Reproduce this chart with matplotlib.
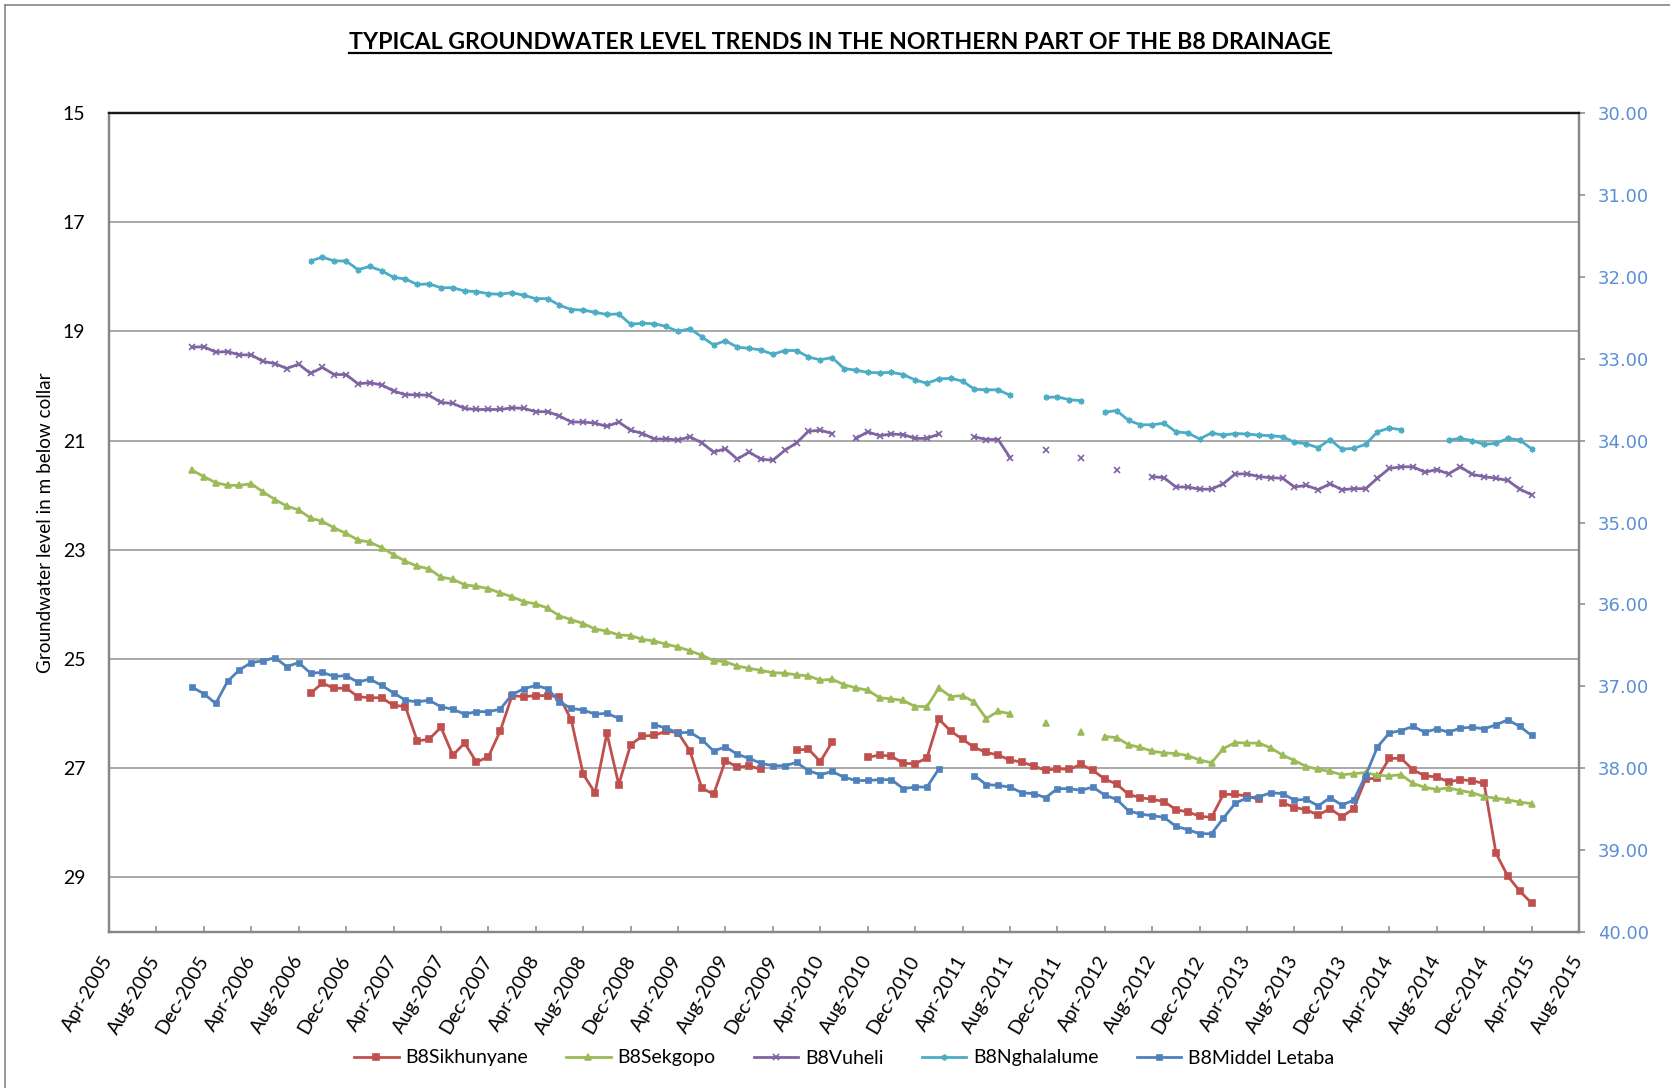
import numpy as np
import matplotlib
matplotlib.use("Agg")
import matplotlib.pyplot as plt
from matplotlib.lines import Line2D

# ---------------- data ----------------
tick_labels = ['Apr-2005', 'Aug-2005', 'Dec-2005', 'Apr-2006', 'Aug-2006', 'Dec-2006',
               'Apr-2007', 'Aug-2007', 'Dec-2007', 'Apr-2008', 'Aug-2008', 'Dec-2008',
               'Apr-2009', 'Aug-2009', 'Dec-2009', 'Apr-2010', 'Aug-2010', 'Dec-2010',
               'Apr-2011', 'Aug-2011', 'Dec-2011', 'Apr-2012', 'Aug-2012', 'Dec-2012',
               'Apr-2013', 'Aug-2013', 'Dec-2013', 'Apr-2014', 'Aug-2014', 'Dec-2014',
               'Apr-2015', 'Aug-2015']

series_names = ['B8Sikhunyane', 'B8Sekgopo', 'B8Vuheli', 'B8Nghalalume', 'B8Middel Letaba']
series_start = ['Sep-2006', 'Nov-2005', 'Nov-2005', 'Sep-2006', 'Nov-2005']

# monthly water levels (m below collar); None = no measurement
sikhunyane = [25.63, 25.44, 25.54, 25.53, 25.69, 25.71, 25.71, 25.85, 25.87, 26.50, 26.47, 26.25, 26.76, 26.54, 26.89,
              26.79, 26.32, 25.67, 25.69, 25.67, 25.67, 25.69, 26.12, 27.11, 27.45, 26.36, 27.30, 26.57, 26.41, 26.40,
              26.32, 26.35, 26.68, 27.36, 27.48, 26.86, 26.98, 26.96, 27.02,
              None, None,
              26.67, 26.65, 26.88, 26.52,
              None, None,
              26.80, 26.76, 26.78, 26.91, 26.92, 26.81, 26.10, 26.32, 26.47, 26.62, 26.71, 26.76, 26.85, 26.89, 26.96,
              27.04, 27.01, 27.02, 26.93, 27.04, 27.20, 27.29, 27.48, 27.54, 27.57, 27.61, 27.76, 27.80, 27.88, 27.90,
              27.48, 27.48, 27.51, 27.57,
              None,
              27.63, 27.72, 27.76, 27.86, 27.74, 27.89, 27.74, 27.20, 27.18, 26.82, 26.82, 27.03, 27.14, 27.16, 27.25,
              27.21, 27.23, 27.28, 28.56, 28.98, 29.25, 29.47]

sekgopo = [21.54, 21.66, 21.77, 21.82, 21.82, 21.79, 21.94, 22.08, 22.20, 22.27, 22.42, 22.48, 22.60, 22.70, 22.82,
           22.86, 22.96, 23.09, 23.21, 23.30, 23.35,
           23.50, 23.54, 23.64, 23.67,
           23.71, 23.79, 23.86, 23.95, 23.99, 24.07, 24.21, 24.28, 24.35, 24.45, 24.49, 24.56, 24.57, 24.64, 24.67,
           24.73, 24.78, 24.85, 24.93, 25.03, 25.05, 25.13, 25.17, 25.21, 25.25, 25.26, 25.29, 25.31, 25.39, 25.37,
           25.47,
           25.53, 25.57, 25.71, 25.73, 25.76, 25.87, 25.87, 25.53, 25.69, 25.67, 25.79, 26.09, 25.96, 26.00,
           None, None, 26.17, None, None, 26.34, None,
           26.42, 26.44, 26.57, 26.62, 26.69, 26.72, 26.73, 26.77, 26.85, 26.90,
           26.64, 26.53, 26.54, 26.54, 26.63, 26.76, 26.86, 26.97, 27.02, 27.06, 27.12, 27.10, 27.08, 27.13, 27.14,
           27.12, 27.28, 27.35, 27.39, 27.36, 27.41, 27.45, 27.52, 27.55, 27.58, 27.62, 27.65]

vuheli = [19.29, 19.28, 19.38, 19.37, 19.43, 19.43, 19.55, 19.59, 19.68, 19.60, 19.77, 19.66, 19.79, 19.79, 19.96,
          19.94, 19.98, 20.09, 20.16, 20.16, 20.17, 20.30, 20.32, 20.41, 20.43,
          20.43, 20.43, 20.40, 20.41, 20.47, 20.47, 20.55, 20.66, 20.66, 20.68, 20.74, 20.66, 20.81, 20.87, 20.97,
          20.97, 20.99, 20.93, 21.04, 21.21, 21.15, 21.34, 21.21, 21.34, 21.36, 21.18, 21.04, 20.83, 20.81, 20.87,
          None,
          20.96, 20.84, 20.91, 20.88, 20.89, 20.96, 20.96, 20.88,
          None, None,
          20.93, 20.98, 20.98, 21.31,
          None, None, 21.18, None, None, 21.32, None, None, 21.54, None, None,
          21.66, 21.68, 21.85, 21.85, 21.89, 21.89,
          21.79, 21.61, 21.61, 21.66, 21.68, 21.69, 21.85, 21.82, 21.90, 21.79, 21.90, 21.88, 21.88, 21.69, 21.51,
          21.48, 21.48, 21.58, 21.53, 21.61, 21.48, 21.62, 21.66, 21.69, 21.73, 21.89, 21.99]

nghalalume = [17.71, 17.64, 17.71, 17.71, 17.87, 17.81, 17.89, 18.01, 18.04, 18.14, 18.13, 18.20, 18.20, 18.26, 18.27,
              18.31, 18.32, 18.29, 18.34, 18.40, 18.40, 18.52, 18.60, 18.61, 18.65, 18.69, 18.68, 18.87, 18.85, 18.86,
              18.91, 19.00, 18.95, 19.10, 19.25, 19.17, 19.29, 19.31, 19.34, 19.42, 19.35, 19.35, 19.47, 19.52, 19.48,
              19.68,
              19.71, 19.75, 19.76, 19.75, 19.79, 19.89, 19.95, 19.87, 19.86, 19.91, 20.06, 20.07, 20.07, 20.17,
              None, None,
              20.21, 20.20, 20.25, 20.27,
              None,
              20.48, 20.45, 20.63, 20.71, 20.71, 20.68, 20.84, 20.86, 20.97, 20.86,
              20.90, 20.87, 20.88, 20.90, 20.91, 20.93, 21.03, 21.06, 21.13, 20.98, 21.16, 21.14, 21.07, 20.84, 20.77,
              20.80,
              None, None, None,
              20.99, 20.96, 21.00, 21.07, 21.05, 20.96, 20.99, 21.15]

# plotted against the secondary (right) axis
middel_letaba = [37.01, 37.09, 37.21, 36.94, 36.80, 36.71, 36.69, 36.65, 36.76, 36.71, 36.84, 36.83, 36.88, 36.87,
                 36.95, 36.91, 36.99, 37.08, 37.17, 37.19, 37.17, 37.25, 37.28, 37.34, 37.31,
                 37.31, 37.28, 37.10, 37.03, 36.99, 37.03, 37.19, 37.27, 37.29, 37.34, 37.33, 37.39,
                 None, None,
                 37.47, 37.51, 37.57, 37.56, 37.65, 37.79, 37.74, 37.83, 37.88, 37.94, 37.97, 37.97, 37.93, 38.03,
                 38.08, 38.04, 38.11,
                 38.15, 38.15, 38.14, 38.14, 38.25, 38.23, 38.23, 38.01,
                 None, None,
                 38.09, 38.20, 38.21, 38.23, 38.30, 38.31, 38.36, 38.25, 38.25, 38.27, 38.23, 38.33, 38.38, 38.52,
                 38.56, 38.58, 38.60, 38.71, 38.75, 38.80, 38.80,
                 38.61, 38.43, 38.36, 38.35, 38.30, 38.31, 38.39, 38.38, 38.46, 38.36, 38.45, 38.39, 38.09, 37.74,
                 37.57, 37.54, 37.49, 37.56, 37.52, 37.56, 37.51, 37.50, 37.52, 37.47, 37.41, 37.49, 37.60]

left_ticks = [15, 17, 19, 21, 23, 25, 27, 29]
right_ticks = [30, 31, 32, 33, 34, 35, 36, 37, 38, 39, 40]

# ---------------- style ----------------
plt.rcParams['font.family'] = ['Lato', 'DejaVu Sans']

colors = ['#C0504D', '#9BBB59', '#8064A2', '#4BACC6', '#4F81BD']
markers = ['s', '^', 'x', (6, 2, 0), 's']
msizes = [3.8, 4.2, 3.8, 4.2, 3.6]

MONTHS = ['Jan', 'Feb', 'Mar', 'Apr', 'May', 'Jun', 'Jul', 'Aug', 'Sep', 'Oct', 'Nov', 'Dec']


def month_index(label):
    # months elapsed since Apr-2005 (the axis origin)
    return (int(label[-4:]) - 2005) * 12 + MONTHS.index(label[:3]) - 3


W, H = 1670, 1088
fig = plt.figure(figsize=(W / 100, H / 100), dpi=100)
fig.patch.set_facecolor('white')

L, R, T, B = 109, 1579, 113, 932
ax = fig.add_axes([L / W, 1 - B / H, (R - L) / W, (B - T) / H])
ax2 = ax.twinx()

data = [sikhunyane, sekgopo, vuheli, nghalalume, middel_letaba]
handles = []
for i, vals in enumerate(data):
    y = np.array([np.nan if v is None else v for v in vals], dtype=float)
    x = month_index(series_start[i]) + np.arange(len(y))
    target = ax2 if i == 4 else ax
    ln, = target.plot(x, y, color=colors[i], lw=2.0, marker=markers[i], ms=msizes[i],
                      mec=colors[i], mfc=colors[i], mew=1.2, label=series_names[i],
                      solid_joinstyle='round', zorder=3)
    handles.append(ln)

# x axis
n_months = (len(tick_labels) - 1) * 4
ax.set_xlim(0, n_months)
ax.set_xticks(np.arange(0, n_months + 1, 4))
ax.set_xticklabels(tick_labels, rotation=60, ha='right', va='center', rotation_mode='anchor',
                   fontsize=14)
ax.tick_params(axis='x', direction='in', length=4.5, width=1.1, color='#868686', pad=18)

# left axis
ax.set_ylim(30, 15)
ax.set_yticks(left_ticks)
ax.set_yticklabels([str(t) for t in left_ticks], fontsize=14)
ax.tick_params(axis='y', length=0, pad=17)
ax.yaxis.grid(True, color='#9a9a9a', lw=1.2)
ax.set_axisbelow(True)

# right axis
ax2.set_ylim(40, 30)
ax2.set_yticks(right_ticks)
ax2.set_yticklabels(['%.2f' % t for t in right_ticks], fontsize=13, color='#5A8FD6',
                    family=['DejaVu Sans'])
ax2.tick_params(axis='y', direction='out', length=4.5, width=1.1, color='#868686', pad=9)

for a in (ax, ax2):
    for s in ('left', 'right', 'bottom'):
        a.spines[s].set_color('#868686')
        a.spines[s].set_linewidth(1.6)
    a.spines['top'].set_color('#1a1a1a')
    a.spines['top'].set_linewidth(1.6)

# title with underline
title = fig.text(840 / W, 1 - 49 / H,
                 'TYPICAL GROUNDWATER LEVEL TRENDS IN THE NORTHERN PART OF THE B8 DRAINAGE',
                 ha='center', va='baseline', fontsize=16.7, fontweight='bold')
fig.canvas.draw()
bb = title.get_window_extent(renderer=fig.canvas.get_renderer())
uy = 1 - 52.5 / H
fig.add_artist(Line2D([bb.x0 / W, bb.x1 / W], [uy, uy], transform=fig.transFigure,
                      color='black', lw=1.6))

# y label
fig.text(46 / W, 1 - ((T + B) / 2) / H, 'Groundwater level in m below collar', rotation=90,
         ha='center', va='center', fontsize=13.6)

# legend
fig.legend(handles=handles, labels=series_names, loc='center', ncol=5,
           bbox_to_anchor=(844 / W, 1 - 1058 / H), frameon=False, fontsize=14,
           handlelength=2.3, handletextpad=0.35, columnspacing=1.95)

# chart area border (top & left visible)
fig.add_artist(Line2D([5 / W, 1], [1 - 5 / H, 1 - 5 / H], transform=fig.transFigure,
                      color='#868686', lw=1.2))
fig.add_artist(Line2D([5 / W, 5 / W], [0, 1 - 5 / H], transform=fig.transFigure,
                      color='#868686', lw=1.2))

fig.savefig('out.png', dpi=100, facecolor='white')
